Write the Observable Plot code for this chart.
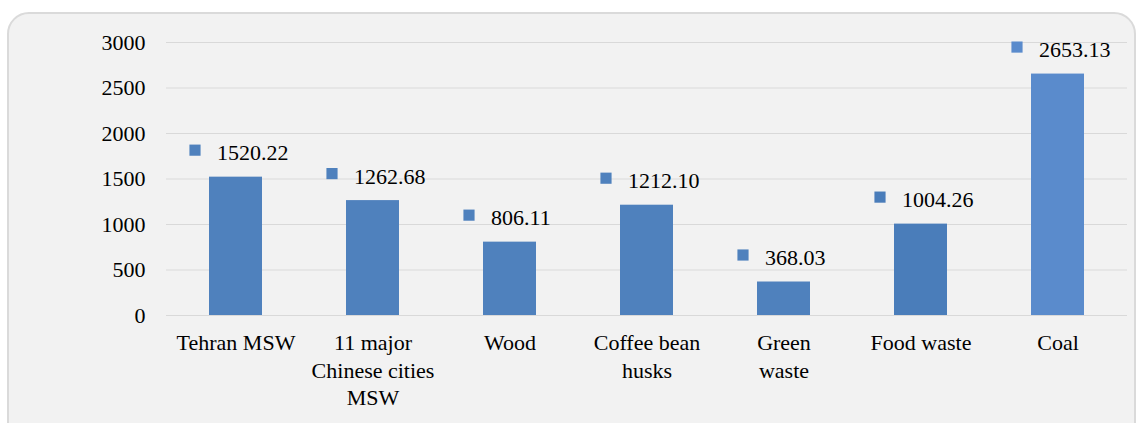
<!DOCTYPE html>
<html>
<head>
<meta charset="utf-8">
<script src="https://cdn.jsdelivr.net/npm/d3@7"></script>
<script src="https://cdn.jsdelivr.net/npm/@observablehq/plot@0.6"></script>
</head>
<body style="margin:0;padding:0;background:#ffffff;">
<div id="wrap" style="position:relative;width:1142px;height:423px;overflow:hidden;">
  <div id="frame" style="position:absolute;left:7px;top:12px;width:1125px;height:440px;background:#f2f2f2;border:2px solid #dadada;border-radius:22px;"></div>
  <div id="chart" style="position:absolute;left:0;top:0;"></div>
</div>
<script>
const categories = ["Tehran MSW", "11 major\nChinese cities\nMSW", "Wood", "Coffee bean\nhusks", "Green\nwaste", "Food waste", "Coal"];
const values = [1520.22, 1262.68, 806.11, 1212.10, 368.03, 1004.26, 2653.13];
const yTicks = [0, 500, 1000, 1500, 2000, 2500, 3000];
const barColors = ["#4f81bd", "#4f81bd", "#4f81bd", "#4f81bd", "#4f81bd", "#4a7dba", "#5a8bcc"];

const data = categories.map((c, i) => ({category: c, value: values[i]}));

const chart = Plot.plot({
  width: 1142,
  height: 423,
  marginLeft: 166,
  marginRight: 15,
  marginTop: 42,
  marginBottom: 108,
  style: "font-family: 'Liberation Serif'; font-size: 22px; color: #000; background: transparent;",
  x: {domain: categories, paddingInner: 0.614, paddingOuter: 0.307, label: null},
  y: {domain: [0, 3000], label: null},
  color: {domain: categories, range: barColors},
  marks: [
    Plot.ruleY(yTicks, {stroke: "#d9d9d9", strokeWidth: 1.2}),
    Plot.barY(data, {x: "category", y: "value", fill: "category"}),
    Plot.dot(data, {x: "category", y: "value", symbol: "square", r: 6.3, fill: "category", stroke: null, dx: -41, dy: -27}),
    Plot.text(data, {x: "category", y: "value", text: d => d.value.toFixed(2), textAnchor: "start", dx: -19, dy: -24, fill: "#000"}),
    Plot.axisY({ticks: yTicks, tickSize: 0, tickPadding: 21, label: null, tickFormat: d => String(d)}),
    Plot.axisX({tickSize: 0, tickPadding: 15, lineHeight: 1.25, label: null})
  ]
});
document.getElementById("chart").appendChild(chart);
</script>
</body>
</html>
